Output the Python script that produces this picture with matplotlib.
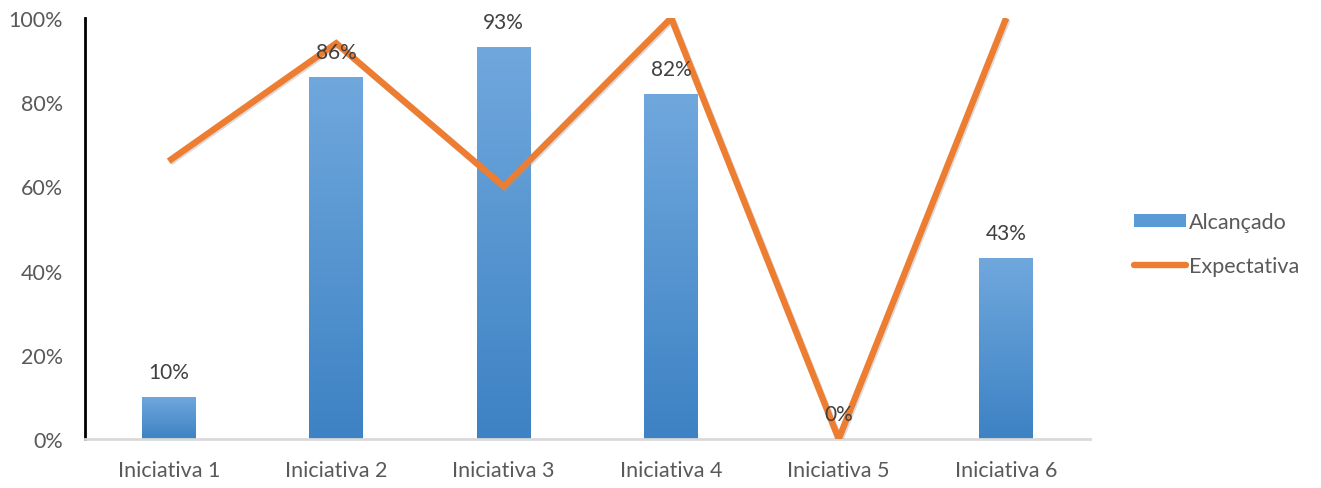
import matplotlib

matplotlib.use("Agg")
import matplotlib.pyplot as plt
import matplotlib.patheffects as pe
import numpy as np
from matplotlib.lines import Line2D
from matplotlib.patches import Patch
from matplotlib.ticker import PercentFormatter

categories = ["Iniciativa 1", "Iniciativa 2", "Iniciativa 3",
              "Iniciativa 4", "Iniciativa 5", "Iniciativa 6"]
alcancado = [0.10, 0.86, 0.93, 0.82, 0.00, 0.43]
expectativa = [0.66, 0.94, 0.60, 1.00, 0.00, 1.00]

BAR_COLOR = "#5b9bd5"
LINE_COLOR = "#ed7d31"
TEXT_COLOR = "#595959"

plt.rcParams["font.family"] = ["Lato", "DejaVu Sans"]

fig = plt.figure(figsize=(13.21, 4.89), dpi=100)
ax = fig.add_axes([0.0643, 0.1002, 0.7608, 0.8609])

x = np.arange(len(categories))
bars = ax.bar(x, alcancado, width=0.32, color=BAR_COLOR, zorder=2)

# vertical gradient inside each bar
grad = np.linspace(0, 1, 256).reshape(-1, 1)
cmap = matplotlib.colors.LinearSegmentedColormap.from_list("g", ["#3d82c4", "#70a8dd"])
for b in bars:
    if b.get_height() <= 0:
        continue
    im = ax.imshow(grad, cmap=cmap, aspect="auto", origin="lower",
                   extent=(b.get_x(), b.get_x() + b.get_width(), 0, b.get_height()),
                   zorder=2.1)
    im.set_clip_path(b)

for xi, v in zip(x, alcancado):
    ax.annotate(f"{v:.0%}", (xi, v), xytext=(0, 18), textcoords="offset points",
                ha="center", va="center", fontsize=15, color="#404040", zorder=4)

ax.plot(x, expectativa, color=LINE_COLOR, linewidth=4.6, solid_joinstyle="miter",
        solid_capstyle="butt", zorder=3,
        path_effects=[pe.SimpleLineShadow(offset=(1, -1), shadow_color="#999999", alpha=0.35),
                      pe.Normal()])

ax.set_xlim(-0.5, len(categories) - 0.5)
ax.set_ylim(0, 1)
ax.set_yticks(np.arange(0, 1.01, 0.2))
ax.yaxis.set_major_formatter(PercentFormatter(1.0, decimals=0))
ax.set_xticks(x)
ax.set_xticklabels(categories)
ax.tick_params(axis="both", length=0, labelsize=15.5, labelcolor=TEXT_COLOR)
ax.tick_params(axis="y", pad=16)
ax.tick_params(axis="x", pad=15)

for side in ["top", "right"]:
    ax.spines[side].set_visible(False)
ax.spines["left"].set_color("black")
ax.spines["left"].set_linewidth(2)
ax.spines["bottom"].set_color("#d9d9d9")
ax.spines["bottom"].set_linewidth(2)

handles = [
    Patch(facecolor=BAR_COLOR, edgecolor="none", label="Alcançado"),
    Line2D([0], [0], color=LINE_COLOR, linewidth=4.6, solid_capstyle="round", label="Expectativa"),
]
fig.legend(handles=handles, loc="center left", bbox_to_anchor=(0.8437, 0.499),
           frameon=False, fontsize=15.5, labelcolor=TEXT_COLOR, handlelength=2.4,
           handleheight=0.55, handletextpad=0.15, labelspacing=1.1)

fig.savefig("out.png", dpi=100)
